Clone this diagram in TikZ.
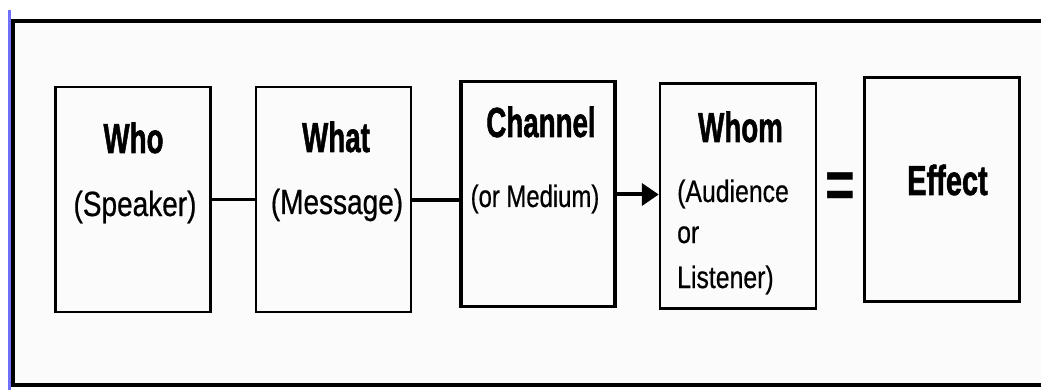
\documentclass[tikz,border=0pt]{standalone}
\usepackage{fontspec}
\usepackage{graphicx}
\setmainfont{Liberation Sans}
\newfontfamily\heavyfont[FakeBold=1.6]{Liberation Sans Bold}
\newfontfamily\semifont[FakeBold=0.7]{Liberation Sans}
\usetikzlibrary{arrows.meta}
\definecolor{framefill}{RGB}{251,251,251}
\definecolor{edgeblue}{RGB}{112,112,255}
\newcommand\bnar[1]{\scalebox{0.66}[1]{#1}}
\newcommand\rnar[1]{\scalebox{0.8}[1]{#1}}
\begin{document}
\begin{tikzpicture}[x=1pt,y=-1pt,
  box/.style={draw, line width=2.5pt, inner sep=0pt, minimum width=155pt, minimum height=225pt},
  boldtxt/.style={font=\fontsize{42}{42}\selectfont\heavyfont, inner sep=0pt, anchor=base},
  regtxt/.style={font=\fontsize{35}{35}\selectfont\semifont, inner sep=0pt, anchor=base},
  smalltxt/.style={font=\fontsize{31}{31}\selectfont\semifont, inner sep=0pt, anchor=base west},
  link/.style={line width=2.5pt},
]
\clip (0,0) rectangle (1041,390);
\fill[white] (0,0) rectangle (1041,390);
% outer frame
\draw[line width=4pt, fill=framefill] (12.5,21) rectangle (1060,384.5);
\coordinate (bt) at (9.5,10);
\coordinate (bb) at (9.5,392);
\draw[edgeblue, line width=3pt] (bt) -- (bb);

% boxes
\node[box] (who) at (133,199.5) {};
\node[box] (what) at (333.5,199.5) {};
\node[box, line width=3.5pt, minimum width=154pt] (chan) at (538,194) {};
\node[box, minimum width=156pt, minimum height=224.5pt] (whom) at (738,196) {};
\node[box, line width=3pt, minimum height=223.5pt] (eff) at (941.7,189.5) {};

% texts
\node[boldtxt] (whoT) at (133.5,153) {\bnar{Who}};
\node[regtxt] (whoS) at (135,216) {\rnar{(Speaker)}};
\node[boldtxt] (whatT) at (336,152) {\bnar{What}};
\node[regtxt] (whatS) at (337,214) {\rnar{(Message)}};
\node[boldtxt] (chanT) at (541,137) {\bnar{Channel}};
\node[smalltxt, anchor=base] (chanS) at (535,207) {\scalebox{0.77}[1]{(or Medium)}};
\node[boldtxt] (whomT) at (740.5,142) {\bnar{Whom}};
\node[smalltxt] (whomS1) at (677,202) {\rnar{(Audience}};
\node[smalltxt] (whomS2) at (677,243) {\rnar{or}};
\node[smalltxt] (whomS3) at (677,288) {\rnar{Listener)}};
\node[boldtxt] (effT) at (947.5,195) {\scalebox{0.69}[1]{Effect}};
\node[font=\fontsize{51}{51}\selectfont\bfseries, inner sep=0pt, anchor=base] (eq) at (840.5,208) {\scalebox{1}[1.35]{=}};

% connectors
\draw[link] (who.east |- 0,199.5) -- (what.west |- 0,199.5);
\draw[line width=4pt] (what.east |- 0,200) -- (chan.west |- 0,200);
\draw[line width=4pt, -{Triangle[length=17pt,width=22pt]}] (chan.east |- 0,194.5) -- (whom.west |- 0,194.5);
\end{tikzpicture}
\end{document}
